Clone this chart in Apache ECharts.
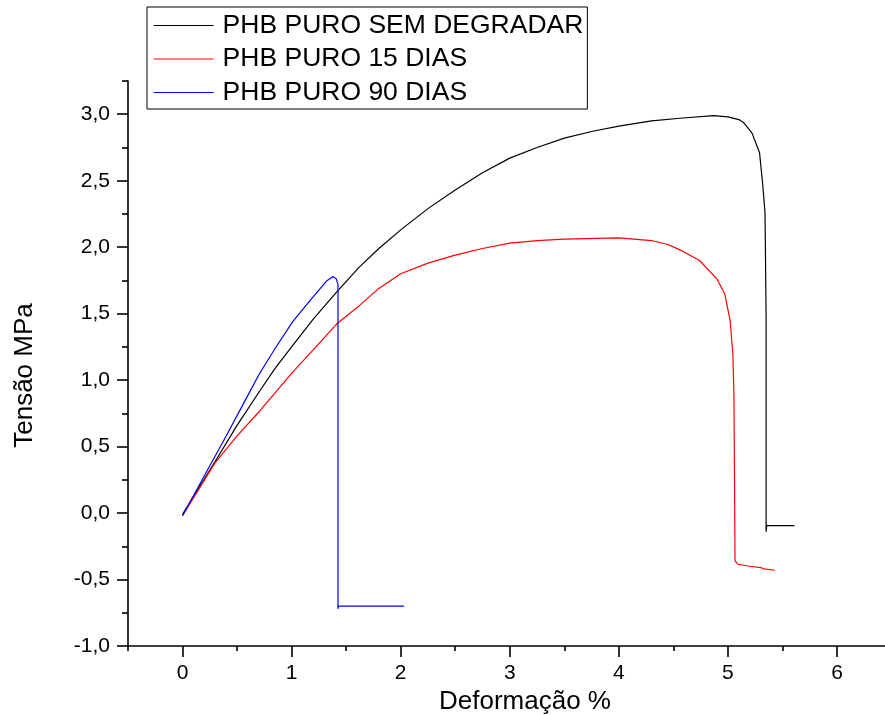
<!DOCTYPE html>
<html>
<head>
<meta charset="utf-8">
<script src="https://cdn.jsdelivr.net/npm/echarts@6/dist/echarts.min.js"></script>
<style>html,body{margin:0;padding:0;background:#fff}#c{width:885px;height:715px}</style>
</head>
<body>
<div id="c"></div>
<script>
const seriesNames = ['PHB PURO SEM DEGRADAR', 'PHB PURO 15 DIAS', 'PHB PURO 90 DIAS'];
const blackData = [[0,-0.01],[0.3,0.39],[0.5,0.66],[0.706,0.916],[0.85,1.09],[1.0,1.25],[1.2,1.46],[1.41,1.66],[1.62,1.85],[1.8,1.99],[2.0,2.13],[2.25,2.29],[2.5,2.43],[2.75,2.56],[3.0,2.67],[3.25,2.75],[3.5,2.82],[3.75,2.87],[4.0,2.91],[4.3,2.95],[4.56,2.97],[4.87,2.99],[5.0,2.98],[5.1,2.96],[5.14,2.94],[5.22,2.86],[5.29,2.71],[5.32,2.46],[5.34,2.26],[5.35,1.5],[5.35,-0.14],[5.355,-0.095],[5.61,-0.095]];
const redData = [[0,-0.02],[0.3,0.38],[0.5,0.58],[0.706,0.766],[1.0,1.05],[1.2,1.23],[1.41,1.42],[1.62,1.56],[1.8,1.69],[2.0,1.80],[2.25,1.88],[2.5,1.94],[2.75,1.99],[3.0,2.03],[3.25,2.05],[3.5,2.06],[4.0,2.07],[4.3,2.05],[4.45,2.02],[4.56,1.98],[4.74,1.90],[4.9,1.76],[4.97,1.65],[5.02,1.45],[5.045,1.2],[5.055,0.9],[5.06,0.3],[5.065,-0.36],[5.09,-0.385],[5.2,-0.40],[5.3,-0.41],[5.33,-0.42],[5.43,-0.43]];
const blueData = [[0,-0.02],[0.2,0.28],[0.4,0.58],[0.55,0.81],[0.706,1.05],[0.85,1.24],[1.01,1.44],[1.17,1.60],[1.32,1.745],[1.38,1.78],[1.41,1.76],[1.425,1.72],[1.425,-0.72],[1.43,-0.70],[2.03,-0.70]];
const xMajorTicks = [0,1,2,3,4,5,6];
const xMinorTicks = [-0.5,0.5,1.5,2.5,3.5,4.5,5.5];
const yMajorTicks = [-1,-0.5,0,0.5,1,1.5,2,2.5,3];
const yMinorTicks = [-0.75,-0.25,0.25,0.75,1.25,1.75,2.25,2.75,3.25];
const colors = ['#000000', '#ff0000', '#0000ff'];

const FONT = 'Liberation Sans, Arial, sans-serif';
const X_MIN = -0.5, X_MAX = 6.44, Y_MIN = -1, Y_MAX = 3.25;

const chart = echarts.init(document.getElementById('c'), null, {renderer: 'canvas'});
const axisLine = {show: true, onZero: false, lineStyle: {color: '#000', width: 1.6}};
const option = {
  animation: false,
  backgroundColor: '#fff',
  color: colors,
  grid: {left: 128, right: 0, top: 81, bottom: 69, containLabel: false, outerBoundsMode: 'none'},
  legend: {
    orient: 'vertical', left: 147, top: 7,
    padding: [5, 4, 3, 6],
    borderColor: '#000', borderWidth: 1,
    itemWidth: 60, itemHeight: 26, itemGap: 6.5,
    itemStyle: {opacity: 0},
    lineStyle: {width: 1.2},
    textStyle: {fontSize: 26.5, lineHeight: 26, color: '#000', fontFamily: FONT, padding: [0, 0, 0, 4]},
    data: seriesNames
  },
  xAxis: [
    {
      type: 'value', min: X_MIN, max: X_MAX, position: 'bottom',
      axisLine: axisLine,
      axisTick: {show: true, length: 11, lineStyle: {color: '#000', width: 1.6}, customValues: xMajorTicks},
      axisLabel: {show: true, fontSize: 21, color: '#000', fontFamily: FONT, margin: 17, customValues: xMajorTicks},
      splitLine: {show: false},
      name: 'Deformação %', nameLocation: 'middle', nameGap: 33,
      nameTextStyle: {fontSize: 26, color: '#000', fontFamily: FONT, padding: [0, 0, 0, 37]}
    },
    {
      type: 'value', min: X_MIN, max: X_MAX, position: 'bottom', offset: 0,
      axisLine: {show: false, onZero: false},
      axisTick: {show: true, length: 5, lineStyle: {color: '#000', width: 1.6}, customValues: xMinorTicks},
      axisLabel: {show: false},
      splitLine: {show: false}
    }
  ],
  yAxis: [
    {
      type: 'value', min: Y_MIN, max: Y_MAX, position: 'left',
      axisLine: axisLine,
      axisTick: {show: true, length: 11, lineStyle: {color: '#000', width: 1.6}, customValues: yMajorTicks},
      axisLabel: {show: true, fontSize: 21, color: '#000', fontFamily: FONT, margin: 18, customValues: yMajorTicks,
        formatter: v => v.toFixed(1).replace('.', ',')},
      splitLine: {show: false},
      name: 'Tensão MPa', nameLocation: 'middle', nameGap: 90,
      nameTextStyle: {fontSize: 26, color: '#000', fontFamily: FONT, padding: [0, 24, 0, 0]}
    },
    {
      type: 'value', min: Y_MIN, max: Y_MAX, position: 'left', offset: 0,
      axisLine: {show: false, onZero: false},
      axisTick: {show: true, length: 6, lineStyle: {color: '#000', width: 1.6}, customValues: yMinorTicks},
      axisLabel: {show: false},
      splitLine: {show: false}
    }
  ],
  series: [
    {name: seriesNames[0], type: 'line', data: blackData},
    {name: seriesNames[1], type: 'line', data: redData},
    {name: seriesNames[2], type: 'line', data: blueData}
  ].map((s, i) => Object.assign(s, {
    xAxisIndex: 0, yAxisIndex: 0, showSymbol: false, symbol: 'none', smooth: false,
    color: colors[i], itemStyle: {color: colors[i]}, lineStyle: {color: colors[i], width: 1.2}, clip: true
  }))
};
chart.setOption(option);
</script>
</body>
</html>
